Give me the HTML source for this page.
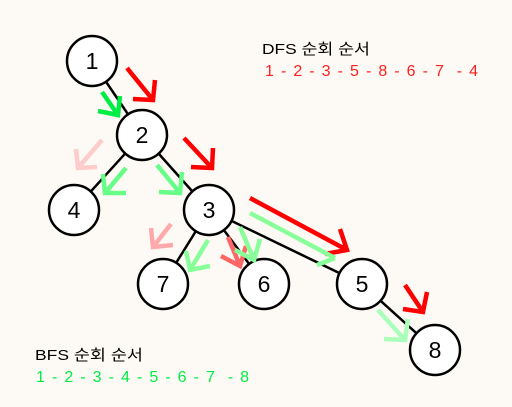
<!DOCTYPE html>
<html><head><style>
html,body{margin:0;padding:0;background:#fdfaf5;}
svg{display:block;font-family:"Liberation Sans","Noto Sans CJK KR",sans-serif;}
</style></head><body>
<svg width="512" height="407" viewBox="0 0 512 407">
<rect width="512" height="407" fill="#fdfaf5"/>
<g stroke="#000" stroke-width="2.5">
<line x1="92" y1="61" x2="142" y2="135"/>
<line x1="142" y1="135" x2="74" y2="210"/>
<line x1="142" y1="135" x2="209" y2="210"/>
<line x1="209" y1="210" x2="163" y2="284"/>
<line x1="209" y1="210" x2="264" y2="284"/>
<line x1="209" y1="210" x2="362" y2="284"/>
<line x1="362" y1="284" x2="435" y2="350"/>
</g>
<g fill="#fff" stroke="#000" stroke-width="2.5">
<circle cx="92" cy="61" r="25"/><circle cx="142" cy="135" r="25"/>
<circle cx="74" cy="210" r="25"/><circle cx="209" cy="210" r="25"/>
<circle cx="163" cy="284" r="25"/><circle cx="264" cy="284" r="25"/>
<circle cx="362" cy="284" r="25"/><circle cx="435" cy="350" r="25"/>
</g>
<g font-size="23" text-anchor="middle" fill="#000">
<text x="92" y="69">1</text><text x="142" y="143">2</text>
<text x="74" y="218">4</text><text x="209" y="218">3</text>
<text x="163" y="292">7</text><text x="264" y="292">6</text>
<text x="362" y="292">5</text><text x="435" y="358">8</text>
</g>
<g fill="none" stroke-width="4.5" stroke-linecap="butt">
<g stroke="#ff0000"><path d="M127,68 L153,100 M155,80 L153,100 L133,99"/></g>
<g stroke="#00ee44"><path d="M102,92 L118,115 M120,96 L118,115 L98,111"/></g>
<g stroke="#ff0000"><path d="M184,138 L212,168 M213,148 L212,168 L191,167"/></g>
<g stroke="#ffcccc"><path d="M102,140 L78,168 M76,149 L78,168 L97,167"/></g>
<g stroke="#66ff88"><path d="M126,168 L105,193 M103,174 L105,193 L126,193"/></g>
<g stroke="#66ff88"><path d="M157,165 L180,193 M182,172 L180,193 L159,192"/></g>
<g stroke="#ffaaaa"><path d="M171,224 L153,247 M151,228 L153,247 L173,245"/></g>
<g stroke="#88ff99"><path d="M208,240 L190,270 M186,251 L190,270 L210,266"/></g>
<g stroke="#ff6666"><path d="M228,237 L240,266 M246,246 L240,266 L221,256"/></g>
<g stroke="#88ff99"><path d="M240,227 L254,260 M260,239 L254,260 L235,250"/></g>
<g stroke="#ff0000"><path d="M250,198 L347,250 M340,229 L347,250 L325,254"/></g>
<g stroke="#88ff99"><path d="M250,213 L335,258 M317,265 L335,258"/></g>
<g stroke="#ff0000"><path d="M405,285 L423,312 M427,292 L423,312 L403,309"/></g>
<g stroke="#aaffbb"><path d="M378,310 L405,340 M408,319 L405,340 L384,339"/></g>
</g>
<text x="262" y="54" font-size="15" fill="#000" textLength="108" lengthAdjust="spacingAndGlyphs">DFS 순회 순서</text>
<text x="265" y="76" font-size="16" fill="#ff2020" xml:space="preserve" textLength="213" lengthAdjust="spacing">1 - 2 - 3 - 5 - 8 - 6 - 7  - 4</text>
<text x="35" y="360" font-size="15" fill="#000" textLength="108" lengthAdjust="spacingAndGlyphs">BFS 순회 순서</text>
<text x="36" y="382" font-size="16" fill="#00ee44" xml:space="preserve" textLength="213" lengthAdjust="spacing">1 - 2 - 3 - 4 - 5 - 6 - 7  - 8</text>
</svg>
</body></html>
